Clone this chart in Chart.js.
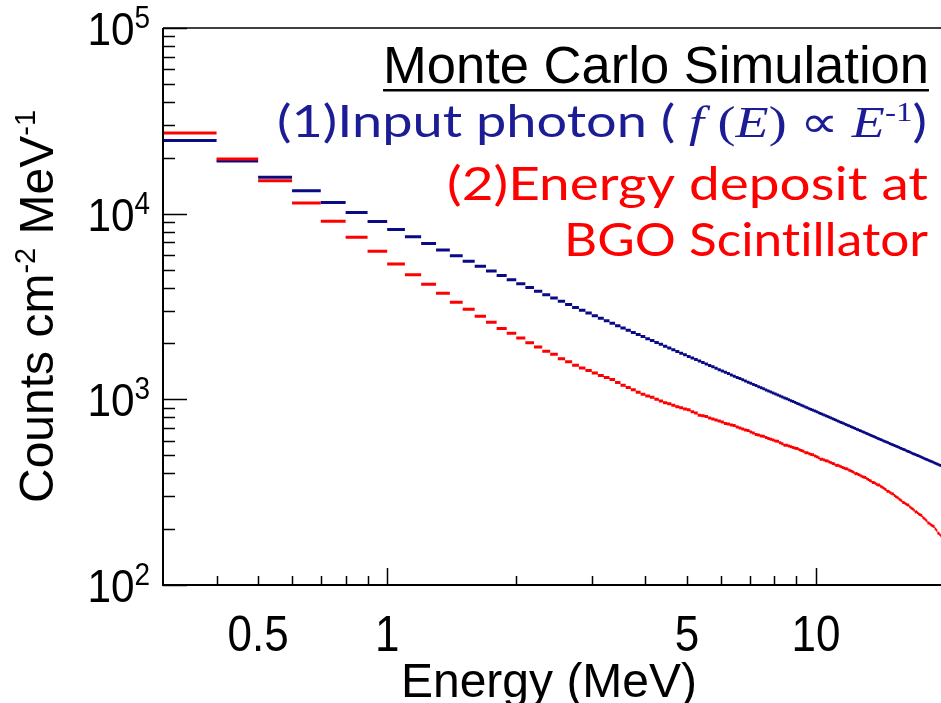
<!DOCTYPE html>
<html>
<head>
<meta charset="utf-8">
<script src="https://cdn.jsdelivr.net/npm/chart.js@4.4.1/dist/chart.umd.min.js"></script>
<style>
  html, body { margin: 0; padding: 0; background: #fff; overflow: hidden; }
  #wrap { width: 945px; height: 703px; }
</style>
</head>
<body>
<div id="wrap"><canvas id="chart" width="945" height="703"></canvas></div>
<script>
// Bin edges in MeV (0.1 MeV wide bins)
const binEdges = [
  0.3, 0.4, 0.5, 0.6, 0.7, 0.8, 0.9, 1.0, 1.1, 1.2,
  1.3, 1.4, 1.5, 1.6, 1.7, 1.8, 1.9, 2.0, 2.1, 2.2,
  2.3, 2.4, 2.5, 2.6, 2.7, 2.8, 2.9, 3.0, 3.1, 3.2,
  3.3, 3.4, 3.5, 3.6, 3.7, 3.8, 3.9, 4.0, 4.1, 4.2,
  4.3, 4.4, 4.5, 4.6, 4.7, 4.8, 4.9, 5.0, 5.1, 5.2,
  5.3, 5.4, 5.5, 5.6, 5.7, 5.8, 5.9, 6.0, 6.1, 6.2,
  6.3, 6.4, 6.5, 6.6, 6.7, 6.8, 6.9, 7.0, 7.1, 7.2,
  7.3, 7.4, 7.5, 7.6, 7.7, 7.8, 7.9, 8.0, 8.1, 8.2,
  8.3, 8.4, 8.5, 8.6, 8.7, 8.8, 8.9, 9.0, 9.1, 9.2,
  9.3, 9.4, 9.5, 9.6, 9.7, 9.8, 9.9, 10.0, 10.1, 10.2,
  10.3, 10.4, 10.5, 10.6, 10.7, 10.8, 10.9, 11.0, 11.1, 11.2,
  11.3, 11.4, 11.5, 11.6, 11.7, 11.8, 11.9, 12.0, 12.1, 12.2,
  12.3, 12.4, 12.5, 12.6, 12.7, 12.8, 12.9, 13.0, 13.1, 13.2,
  13.3, 13.4, 13.5, 13.6, 13.7, 13.8, 13.9, 14.0, 14.1, 14.2,
  14.3, 14.4, 14.5, 14.6, 14.7, 14.8, 14.9, 15.0, 15.1, 15.2,
  15.3, 15.4, 15.5, 15.6, 15.7, 15.8, 15.9, 16.0, 16.1, 16.2,
  16.3, 16.4, 16.5, 16.6, 16.7, 16.8, 16.9, 17.0, 17.1, 17.2,
  17.3, 17.4, 17.5, 17.6, 17.7, 17.8, 17.9, 18.0, 18.1, 18.2,
  18.3, 18.4, 18.5, 18.6, 18.7, 18.8, 18.9, 19.0, 19.1, 19.2,
  19.3, 19.4, 19.5, 19.6, 19.7, 19.8, 19.9, 20.0
];

// (1) Input photon spectrum, counts cm^-2 MeV^-1 per bin
const inputCounts = [
  24800, 19200, 15700, 13280, 11500, 10150, 9080, 8220, 7500, 6900,
  6370, 5931, 5548, 5212, 4914, 4649, 4410, 4195, 4000, 3822,
  3660, 3510, 3373, 3245, 3127, 3018, 2915, 2820, 2730, 2646,
  2567, 2493, 2423, 2356, 2293, 2234, 2177, 2123, 2072, 2024,
  1977, 1933, 1890, 1849, 1811, 1773, 1737, 1703, 1670, 1638,
  1607, 1578, 1550, 1522, 1496, 1470, 1445, 1421, 1398, 1376,
  1354, 1333, 1313, 1293, 1274, 1255, 1237, 1220, 1203, 1186,
  1170, 1154, 1139, 1124, 1110, 1096, 1082, 1068, 1055, 1042,
  1030, 1018, 1006, 994, 983, 972, 961, 950, 940, 930,
  920, 910, 901, 891, 882, 873, 864, 856, 847, 839,
  831, 823, 815, 808, 800, 793, 785, 778, 771, 764,
  758, 751, 745, 738, 732, 726, 720, 714, 708, 702,
  696, 691, 685, 680, 675, 669, 664, 659, 654, 649,
  644, 639, 635, 630, 625, 621, 616, 612, 608, 604,
  599, 595, 591, 587, 583, 579, 575, 571, 568, 564,
  560, 557, 553, 550, 546, 543, 539, 536, 533, 529,
  526, 523, 520, 517, 513, 510, 507, 504, 501, 499,
  496, 493, 490, 487, 485, 482, 479, 476, 474, 471,
  469, 466, 464, 461, 459, 456, 454, 451, 449, 447,
  444, 442, 440, 438, 435, 433, 431
];

// (2) Energy deposit at BGO scintillator
const depositCounts = [
  27200, 19700, 15060, 11420, 9100, 7460, 6275, 5360, 4695, 4166,
  3726, 3334, 3056, 2803, 2601, 2404, 2270, 2141, 2020, 1914,
  1815, 1750, 1656, 1596, 1526, 1476, 1428, 1387, 1342, 1309,
  1277, 1232, 1192, 1158, 1125, 1093, 1066, 1043, 1027, 1001,
  981, 958, 946, 928, 913, 900, 887, 880, 858, 843,
  822, 815, 809, 793, 783, 773, 764, 755, 741, 737,
  728, 722, 709, 700, 692, 684, 679, 667, 659, 646,
  643, 635, 633, 622, 616, 609, 603, 597, 594, 583,
  577, 566, 566, 560, 555, 550, 545, 544, 535, 530,
  525, 516, 515, 510, 505, 503, 495, 490, 485, 476,
  475, 471, 467, 466, 459, 455, 451, 448, 440, 441,
  437, 434, 430, 426, 423, 421, 415, 412, 408, 405,
  397, 398, 394, 391, 387, 383, 380, 379, 373, 370,
  366, 363, 356, 356, 353, 349, 346, 346, 340, 337,
  334, 330, 327, 320, 320, 317, 313, 310, 309, 303,
  300, 297, 294, 290, 287, 284, 278, 278, 275, 272,
  270, 270, 264, 261, 258, 256, 253, 247, 248, 245,
  242, 240, 238, 237, 232, 229, 227, 224, 221, 216,
  216, 213, 211, 209, 207, 207, 202, 199, 196, 190,
  190, 187, 184, 181, 178, 175, 172
];

// Axis ticks and labels
const xMajorTicks = [1, 10];
const xMinorTicks = [0.4, 0.5, 0.6, 0.7, 0.8, 0.9, 2, 3, 4, 5, 6, 7, 8, 9, 20];
const xTickLabels = ['0.5', '1', '5', '10'];
const xLabelValues = [0.5, 1, 5, 10];
const yMajorTicks = [100, 1000, 10000, 100000];
const yMinorTicks = [
  200, 300, 400, 500, 600, 700, 800, 900,
  2000, 3000, 4000, 5000, 6000, 7000, 8000, 9000,
  20000, 30000, 40000, 50000, 60000, 70000, 80000, 90000
];
const yExponents = ['2', '3', '4', '5'];

const SANS = '"Liberation Sans", Arial, Helvetica, sans-serif';
const LEGEND_FONT = 'Lato, "Noto Sans", sans-serif';
const SERIF = '"Liberation Serif", "Times New Roman", serif';
const NAVY = '#0a0a85';
const RED = '#ff0000';

// one horizontal segment per bin, broken between bins
function histPoints(values) {
  const pts = [];
  values.forEach((v, i) => {
    pts.push({ x: binEdges[i], y: v }, { x: binEdges[i + 1], y: v }, { x: binEdges[i + 1], y: null });
  });
  return pts;
}

// draw a row of text runs, right aligned; fitWidth squeezes to a width, else scaleX is used
function drawRuns(ctx, runs, xRight, baseline, color, fitWidth, scaleX) {
  let total = 0;
  runs.forEach(r => {
    ctx.font = r.font;
    r.w = ctx.measureText(r.text).width;
    total += r.w;
  });
  const sx = fitWidth ? fitWidth / total : (scaleX || 1);
  ctx.save();
  ctx.translate(xRight - total * sx, baseline);
  ctx.scale(sx, 1);
  ctx.fillStyle = color;
  ctx.textAlign = 'left';
  ctx.textBaseline = 'alphabetic';
  let xx = 0;
  runs.forEach(r => {
    ctx.font = r.font;
    ctx.fillText(r.text, xx, -(r.rise || 0));
    xx += r.w;
  });
  ctx.restore();
  return total * sx;
}

const rootAxes = {
  id: 'rootAxes',
  afterDatasetsDraw(chart) {
    const { ctx, chartArea: a, scales: { x, y } } = chart;
    ctx.save();
    ctx.strokeStyle = '#000';

    // tick marks inside the frame
    ctx.lineWidth = 1.5;
    ctx.beginPath();
    yMajorTicks.forEach(v => {
      const py = Math.round(y.getPixelForValue(v)) + 0.5;
      ctx.moveTo(a.left, py); ctx.lineTo(a.left + 24, py);
    });
    yMinorTicks.forEach(v => {
      const py = Math.round(y.getPixelForValue(v)) + 0.5;
      ctx.moveTo(a.left, py); ctx.lineTo(a.left + 12, py);
    });
    xMajorTicks.forEach(v => {
      const px = Math.round(x.getPixelForValue(v)) + 0.5;
      ctx.moveTo(px, a.bottom); ctx.lineTo(px, a.bottom - 17);
    });
    xMinorTicks.forEach(v => {
      const px = Math.round(x.getPixelForValue(v)) + 0.5;
      ctx.moveTo(px, a.bottom); ctx.lineTo(px, a.bottom - 9);
    });
    ctx.stroke();

    // frame
    ctx.lineWidth = 2;
    ctx.beginPath();
    ctx.moveTo(a.left, a.top); ctx.lineTo(a.left, a.bottom); ctx.lineTo(a.right, a.bottom);
    ctx.stroke();
    ctx.lineWidth = 1.5;
    ctx.beginPath();
    ctx.moveTo(a.left, a.top); ctx.lineTo(a.right, a.top);
    ctx.stroke();

    // x tick labels, slightly condensed
    xTickLabels.forEach((t, i) => {
      ctx.font = '50px ' + SANS;
      const tw = ctx.measureText(t).width * 0.88;
      drawRuns(ctx, [{ text: t, font: '50px ' + SANS }],
        x.getPixelForValue(xLabelValues[i]) + tw / 2, 651, '#000', 0, 0.88);
    });

    // y tick labels 10^n
    yMajorTicks.forEach((v, i) => {
      const py = y.getPixelForValue(v);
      drawRuns(ctx, [
        { text: '10', font: '47px ' + SANS },
        { text: yExponents[i], font: '31px ' + SANS, rise: 17 }
      ], 150, py + 17, '#000', 0, 0.9);
    });

    // axis titles
    ctx.fillStyle = '#000';
    ctx.font = '48px ' + SANS;
    ctx.textAlign = 'center';
    ctx.textBaseline = 'alphabetic';
    ctx.fillText('Energy (MeV)', (402 + 696) / 2, 697);

    ctx.save();
    ctx.translate(53, (a.top + a.bottom) / 2);
    ctx.rotate(-Math.PI / 2);
    const titleRuns = [
      { text: 'Counts cm', font: '48px ' + SANS },
      { text: '-2', font: '29px ' + SANS, rise: 18 },
      { text: ' MeV', font: '48px ' + SANS },
      { text: '-1', font: '29px ' + SANS, rise: 18 }
    ];
    let tw = 0;
    titleRuns.forEach(r => { ctx.font = r.font; tw += ctx.measureText(r.text).width; });
    drawRuns(ctx, titleRuns, tw / 2, 0, '#000');
    ctx.restore();

    // annotation text
    const w = drawRuns(ctx, [{ text: 'Monte Carlo Simulation', font: '51px ' + SANS }], 929, 83, '#000', 546);
    ctx.fillStyle = '#000';
    ctx.fillRect(929 - w, 89, w, 2.5);

    drawRuns(ctx, [
      { text: '(1)Input photon ( ', font: '44px ' + LEGEND_FONT },
      { text: 'f', font: 'italic 44px ' + SERIF },
      { text: ' (', font: '44px ' + SERIF },
      { text: 'E', font: 'italic 44px ' + SERIF },
      { text: ') \u221D ', font: '44px ' + SERIF },
      { text: 'E', font: 'italic 44px ' + SERIF },
      { text: '-1', font: '27px ' + SERIF, rise: 16 },
      { text: ')', font: '44px ' + LEGEND_FONT }
    ], 927, 137, '#1c1c95', 650);

    // zero-width non-joiner keeps "ti" from forming a ligature
    drawRuns(ctx, [{ text: '(2)Energy deposit at', font: '46px ' + LEGEND_FONT }], 928, 200, RED, 481);
    drawRuns(ctx, [{ text: 'BGO Scint\u200Cillator', font: '46px ' + LEGEND_FONT }], 928, 256, RED, 364);

    ctx.restore();
  }
};

new Chart(document.getElementById('chart'), {
  type: 'line',
  data: {
    datasets: [
      {
        label: 'Energy deposit at BGO Scintillator',
        data: histPoints(depositCounts),
        borderColor: RED,
        borderWidth: 3,
        pointRadius: 0,
        spanGaps: false,
        order: 0
      },
      {
        label: 'Input photon',
        data: histPoints(inputCounts),
        borderColor: NAVY,
        borderWidth: 3,
        pointRadius: 0,
        spanGaps: false,
        order: 1
      }
    ]
  },
  options: {
    responsive: false,
    animation: false,
    layout: { padding: { left: 163, top: 28, right: 0, bottom: 118 } },
    plugins: { legend: { display: false }, tooltip: { enabled: false } },
    scales: {
      x: { type: 'logarithmic', min: 0.3, max: 20, display: false },
      y: { type: 'logarithmic', min: 100, max: 100000, display: false }
    }
  },
  plugins: [rootAxes]
});
</script>
</body>
</html>
